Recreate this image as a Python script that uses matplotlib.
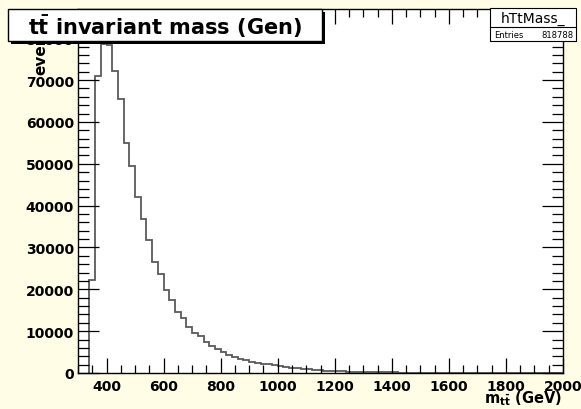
import numpy as np
import matplotlib
matplotlib.use('agg')
import matplotlib.pyplot as plt
from matplotlib.patches import Rectangle

# ttbar invariant mass, 20 GeV bins starting at 340 GeV
bin_lo = 340
bin_w = 20
counts = [22200, 70900, 78700, 78300, 72300, 65500, 54900, 49500, 42000, 36800,
          31900, 26600, 23600, 19900, 17400, 14500, 13200, 11100, 9650, 8750,
          7500, 6400, 5750, 5050, 4400, 3850, 3450, 3050, 2600, 2350,
          2200, 2050, 1950, 1700, 1450, 1250, 1150, 1050, 900, 800,
          650, 580, 500, 430, 390, 340, 300, 260, 230, 200,
          180, 160, 140, 125, 110, 100, 90, 80, 70, 62,
          56, 50, 45, 40, 36, 32, 29, 26, 23, 21,
          19, 17, 15, 14, 12, 11, 10, 9, 8, 7,
          7, 6, 5]
entries = 818788
hist_name = 'hTtMass_'

plt.rcParams['font.family'] = ['DejaVu Sans']
plt.rcParams['font.weight'] = 'bold'
plt.rcParams['mathtext.fontset'] = 'dejavusans'

W, H = 581, 410
bg = '#fffde6'
fig = plt.figure(figsize=(W/100, H/100), dpi=100, facecolor=bg)
ax = fig.add_axes([78/W, 1-374/H, (563-78)/W, (374-10)/H])
ax.set_facecolor('white')

edges = bin_lo + bin_w*np.arange(len(counts)+1)
ax.stairs(counts, edges, color='#5a5a5a', lw=1.3, baseline=0)

ax.set_xlim(300, 2000)
ax.set_ylim(0, 87000)
ax.set_xticks(np.arange(400, 2001, 200))
ax.set_xticks(np.arange(300, 2001, 50), minor=True)
ax.set_yticks(np.arange(0, 80001, 10000))
ax.set_yticks(np.arange(0, 87000, 2000), minor=True)
ax.tick_params(direction='in', top=True, right=True, which='both',
               labelsize=10, width=0.9, color='black')
ax.tick_params(axis='x', which='major', length=11, pad=4)
ax.tick_params(axis='x', which='minor', length=5.5)
ax.tick_params(axis='y', which='major', length=15, pad=3)
ax.tick_params(axis='y', which='minor', length=8)
for lab in ax.get_xticklabels() + ax.get_yticklabels():
    lab.set_fontweight('bold')
for s in ax.spines.values():
    s.set_linewidth(1.0)

# axis titles, ROOT style
fig.text(41/W, 1-75/H, 'events', rotation=90, ha='center', va='bottom',
         fontsize=11, fontweight='bold', zorder=2)
fig.text(562/W, 1-399/H, r'$\mathbf{m_{t\bar{t}}}$ (GeV)', ha='right', va='center',
         fontsize=10.5, fontweight='bold')

# title box with shadow
def px_rect(x0, y0, x1, y1, **kw):
    return Rectangle((x0/W, 1-y1/H), (x1-x0)/W, (y1-y0)/H,
                     transform=fig.transFigure, **kw)

fig.patches.append(px_rect(11, 13, 325, 45, facecolor='black', edgecolor='none', zorder=5))
fig.patches.append(px_rect(8, 10, 322, 42, facecolor='white', edgecolor='black', lw=1, zorder=5))
fig.text(165/W, 1-27/H, r'$\mathbf{t\bar{t}}$ invariant mass (Gen)', ha='center', va='center',
         fontsize=15, fontweight='bold', zorder=6)

# stats box
fig.patches.append(px_rect(491, 10, 577, 43, facecolor='black', edgecolor='none', zorder=5))
fig.patches.append(px_rect(490, 9, 576, 42, facecolor='white', edgecolor='black', lw=0.8, zorder=5))
fig.lines.append(plt.Line2D([490/W, 576/W], [1-28/H, 1-28/H], transform=fig.transFigure,
                            color='black', lw=0.8, zorder=6))
fig.text(533/W, 1-18.5/H, hist_name, ha='center', va='center', fontsize=10,
         fontweight='normal', zorder=6)
fig.text(494/W, 1-35/H, 'Entries', ha='left', va='center', fontsize=6,
         fontweight='normal', zorder=6)
fig.text(573/W, 1-35/H, str(entries), ha='right', va='center', fontsize=6,
         fontweight='normal', zorder=6)

fig.savefig('out.png', dpi=100, facecolor=bg)
